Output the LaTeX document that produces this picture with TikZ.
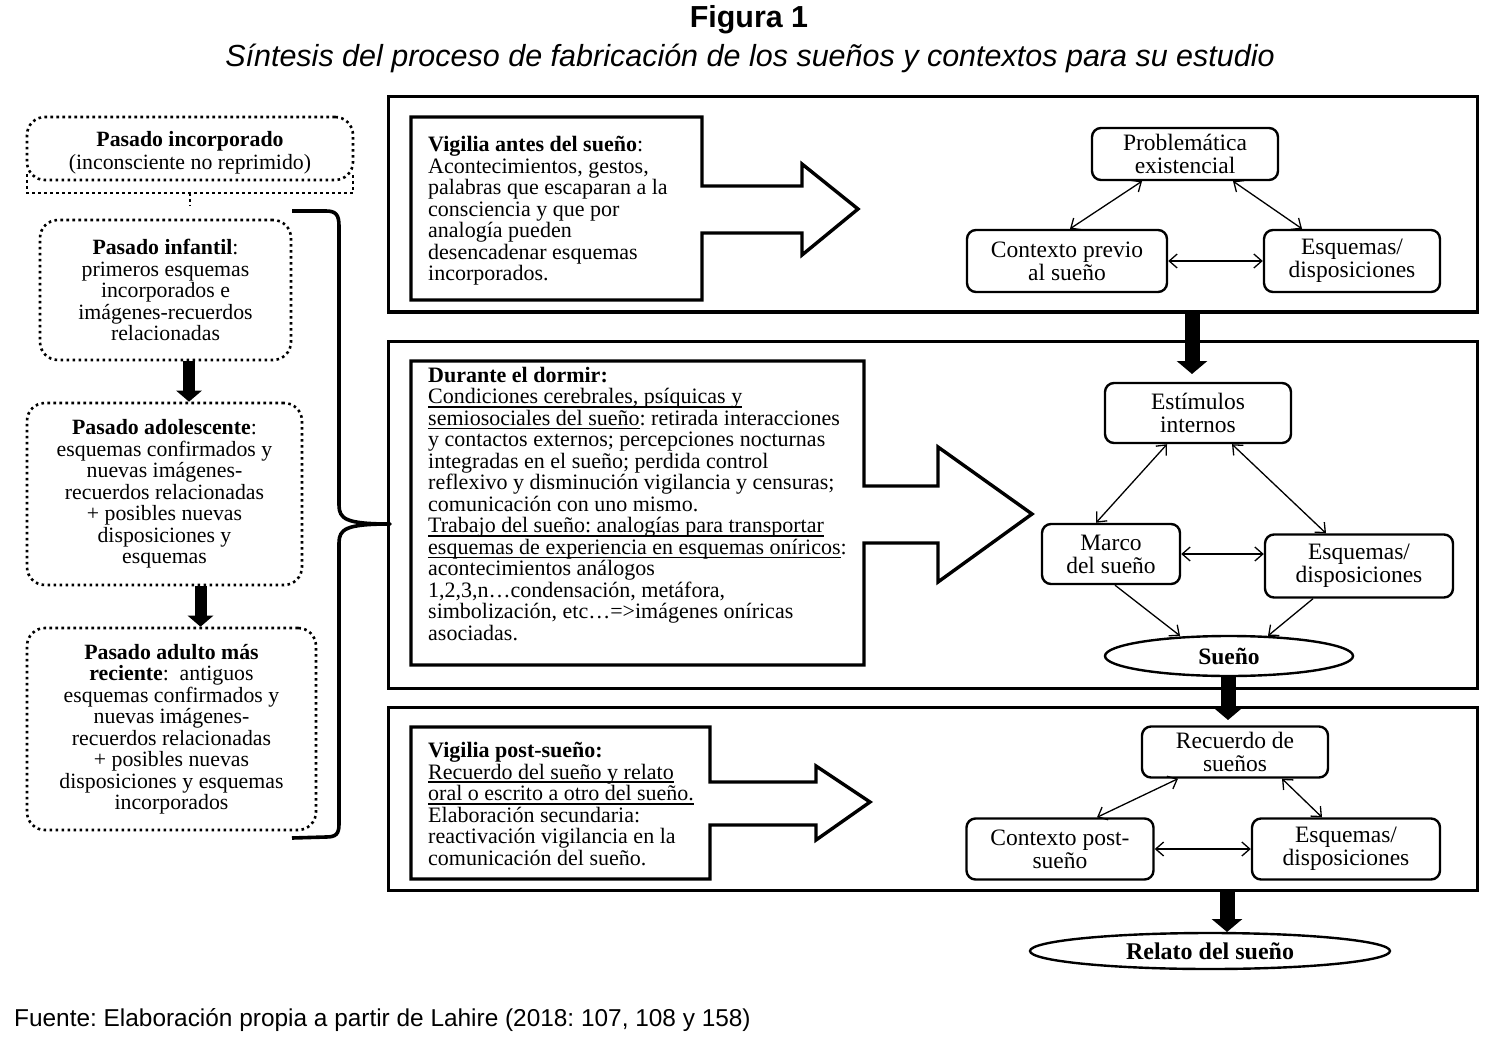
\documentclass[tikz,border=0pt]{standalone}
\usepackage{fontspec}
\setmainfont{Liberation Serif}
\newfontfamily\sansf{Liberation Sans}
\usetikzlibrary{arrows.meta,shapes.geometric}
\frenchspacing
\newsavebox\ulbox
\newcommand\myul[1]{\sbox\ulbox{#1}\rlap{\rule[-4pt]{\wd\ulbox}{1.8pt}}\usebox\ulbox}
\newcommand\nfont{\fontsize{23.5}{23}\selectfont}
\newcommand\tfont{\fontsize{22}{21.5}\selectfont}
\newcommand\lfont{\fontsize{21.8}{21.5}\selectfont}
\begin{document}
\begin{tikzpicture}[x=1pt,y=-1pt,
  rbox/.style={draw, line width=2.4pt, rounded corners=9pt, align=center, inner sep=0pt, font=\nfont},
  ebox/.style={draw, ellipse, line width=2.4pt, inner sep=0pt, font=\nfont\bfseries},
  dbox/.style={draw, line width=2.6pt, dash pattern=on 2.6pt off 3.4pt, rounded corners=18pt, align=center, inner sep=0pt, font=\lfont},
  dline/.style={line width=2.6pt, dash pattern=on 2.6pt off 3.4pt},
  panel/.style={draw, line width=3pt, inner sep=0pt},
  tbord/.style={line width=3.4pt},
  tnode/.style={anchor=north west, align=left, inner sep=0pt, font=\tfont},
  dbl/.style={line width=1.3pt, {Straight Barb[length=8pt,width=14pt]}-{Straight Barb[length=8pt,width=14pt]}},
  sgl/.style={line width=1.3pt, -{Straight Barb[length=8pt,width=14pt]}},
  bigarrow/.style={line width=15pt, -{Triangle[length=13pt,width=30pt]}},
  smallarrow/.style={line width=12pt, -{Triangle[length=11pt,width=25pt]}}
]
\useasboundingbox (0,0) rectangle (1495,1040);

% titles
\node (title) at (749,20) {\sansf\bfseries\fontsize{30.4}{34}\selectfont Figura 1};
\node (sub) at (750,58) {\sansf\itshape\fontsize{30.5}{34}\selectfont Síntesis del proceso de fabricación de los sueños y contextos para su estudio};
\node[anchor=west, inner sep=0pt] (src) at (14,1020) {\sansf\fontsize{24.4}{26}\selectfont Fuente: Elaboración propia a partir de Lahire (2018: 107, 108 y 158)};

% panels
\node[panel, minimum width=1089pt, minimum height=215pt] (p1) at (932.5,204.5) {};
\node[panel, minimum width=1089pt, minimum height=347pt] (p2) at (932.5,514.5) {};
\node[panel, minimum width=1089pt, minimum height=183pt] (p3) at (932.5,798.5) {};

% left column
\node[dbox, minimum width=326pt, minimum height=63pt, text depth=0pt] (inc) at (190,148.5)
  {\raisebox{-4pt}{\textbf{Pasado incorporado}}\\[1.5pt]\raisebox{-4pt}{(inconsciente no reprimido)}};
\draw[dline] (27,174) -- (27,193) -- (353,193) -- (353,174);
\draw[dline] (190,193) -- (190,206);
\node[dbox, minimum width=251pt, minimum height=140pt] (inf) at (165.5,290)
  {\textbf{Pasado infantil}:\\primeros esquemas\\incorporados e\\imágenes-recuerdos\\relacionadas};
\node[dbox, minimum width=275pt, minimum height=182pt] (ado) at (164.5,494)
  {\textbf{Pasado adolescente}:\\esquemas confirmados y\\nuevas imágenes-\\recuerdos relacionadas\\+ posibles nuevas\\disposiciones y\\esquemas};
\node[dbox, minimum width=289pt, minimum height=202pt] (adu) at (171.5,729)
  {\textbf{Pasado adulto más}\\\textbf{reciente}:\ \ antiguos\\esquemas confirmados y\\nuevas imágenes-\\recuerdos relacionadas\\+ posibles nuevas\\disposiciones y esquemas\\incorporados};
\draw[smallarrow] ([xshift=23.5pt]inf.south) -- ([xshift=24.5pt]ado.north);
\draw[smallarrow] ([xshift=36pt]ado.south) -- ([xshift=29pt]adu.north);

% brace
\draw[line width=3.6pt, line join=round] (292,211) -- (326,211) .. controls (336,211) and (339,215) .. (339,226)
  -- (339,505) .. controls (339,519) and (346,524) .. (390,524)
  .. controls (346,524) and (339,529) .. (339,543)
  -- (339,824) .. controls (339,834) and (336,837) .. (326,837) -- (292,838);

% panel 1
\draw[tbord] (411,117) -- (702,117) -- (702,186) -- (802,186) -- (802,164) -- (858,209) -- (802,255) -- (802,233) -- (702,233) -- (702,300) -- (411,300) -- cycle;
\node[tnode] (vig) at (428,136)
  {\textbf{Vigilia antes del sueño}:\\Acontecimientos, gestos,\\palabras que escaparan a la\\consciencia y que por\\analogía pueden\\desencadenar esquemas\\incorporados.};
\node[rbox, minimum width=186pt, minimum height=52pt] (prob) at (1185,154) {Problemática\\existencial};
\node[rbox, minimum width=200pt, minimum height=62pt] (ctx1) at (1067,261) {Contexto previo\\al sueño};
\node[rbox, minimum width=176pt, minimum height=62pt] (esq1) at (1352,261) {Esquemas/\\disposiciones};
\draw[dbl] ([xshift=-43pt]prob.south) -- ([xshift=3pt]ctx1.north);
\draw[dbl] ([xshift=48pt]prob.south) -- ([xshift=-50pt]esq1.north);
\draw[dbl] (ctx1.east) -- (esq1.west);

% panel 2
\draw[tbord] (411,361) -- (864,361) -- (864,486) -- (938,486) -- (938,447) -- (1032,514) -- (938,582) -- (938,543) -- (864,543) -- (864,665) -- (411,665) -- cycle;
\node[tnode] (dur) at (428,367)
  {\textbf{Durante el dormir:}\\
   \myul{Condiciones cerebrales, psíquicas y}\\
   \myul{semiosociales del sueño}: retirada interacciones\\
   y contactos externos; percepciones nocturnas\\
   integradas en el sueño; perdida control\\
   reflexivo y disminución vigilancia y censuras;\\
   comunicación con uno mismo.\\
   \myul{Trabajo del sueño: analogías para transportar}\\
   \myul{esquemas de experiencia en esquemas oníricos}:\\
   acontecimientos análogos\\
   1,2,3,n…condensación, metáfora,\\
   simbolización, etc…=>imágenes oníricas\\
   asociadas.};
\node[rbox, minimum width=186pt, minimum height=60pt] (est) at (1198,413) {Estímulos\\internos};
\node[rbox, minimum width=138pt, minimum height=60pt] (marco) at (1111,554) {Marco\\del sueño};
\node[rbox, minimum width=188pt, minimum height=63pt] (esq2) at (1359,566) {Esquemas/\\disposiciones};
\node[ebox, minimum width=248pt, minimum height=40pt] (sueno) at (1229,656) {Sueño};
\draw[dbl] ([xshift=-31pt]est.south) -- ([xshift=-15pt]marco.north);
\draw[dbl] ([xshift=34pt]est.south) -- ([xshift=-33pt]esq2.north);
\draw[dbl] (marco.east) -- (marco.east -| esq2.west);
\draw[sgl] ([xshift=4pt]marco.south) -- ([xshift=-49pt,yshift=-1pt]sueno.north);
\draw[sgl] ([xshift=-46pt]esq2.south) -- ([xshift=39pt,yshift=-1pt]sueno.north);

% panel 3
\draw[tbord] (411,727) -- (710,727) -- (710,782) -- (816,782) -- (816,766) -- (870,802) -- (816,840) -- (816,825) -- (710,825) -- (710,879) -- (411,879) -- cycle;
\node[tnode] (post) at (428,742)
  {\textbf{Vigilia post-sueño:}\\
   \myul{Recuerdo del sueño y relato}\\
   \myul{oral o escrito a otro del sueño.}\\
   Elaboración secundaria:\\
   reactivación vigilancia en la\\
   comunicación del sueño.};
\node[rbox, minimum width=186pt, minimum height=51pt] (rec) at (1235,752) {Recuerdo de\\sueños};
\node[rbox, minimum width=187pt, minimum height=61pt] (ctx3) at (1060,849) {Contexto post-\\sueño};
\node[rbox, minimum width=188pt, minimum height=61pt] (esq3) at (1346,849) {Esquemas/\\disposiciones};
\draw[dbl] ([xshift=-57pt]rec.south) -- ([xshift=37pt]ctx3.north);
\draw[dbl] ([xshift=47pt]rec.south) -- ([xshift=-24pt]esq3.north);
\draw[dbl] (ctx3.east) -- (esq3.west);

\node[ebox, minimum width=360pt, minimum height=36pt, font=\fontsize{24}{24}\selectfont\bfseries] (relato) at (1210,951) {Relato del sueño};

% big arrows
\coordinate (a1e) at (1192,374);
\coordinate (a2e) at (1228,720);
\coordinate (a3e) at (1227,932);
\draw[bigarrow] ([xshift=259.5pt]p1.south) -- (a1e);
\draw[bigarrow] ([xshift=-1pt]sueno.south) -- (a2e);
\draw[bigarrow] ([xshift=294.5pt]p3.south) -- (a3e);
\end{tikzpicture}
\end{document}
